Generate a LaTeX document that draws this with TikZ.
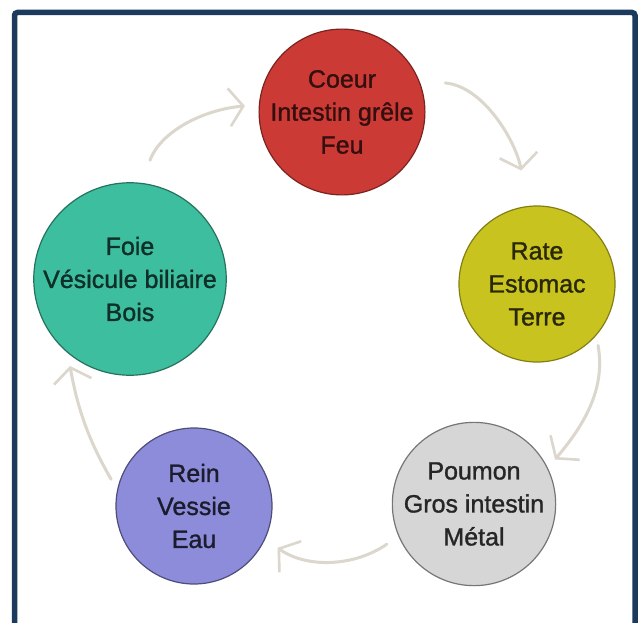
\documentclass[tikz,border=0pt]{standalone}
\usepackage{fontspec}
\setmainfont{Liberation Sans}[BoldFont={Liberation Sans}, BoldFeatures={FakeBold=1.2}]
\usetikzlibrary{arrows.meta}

\definecolor{framecol}{HTML}{1B3A5E}
\definecolor{cyccol}{HTML}{DCD7CC}
\definecolor{feucol}{HTML}{CC3A36}
\definecolor{terrecol}{HTML}{C9C31F}
\definecolor{metalcol}{HTML}{D6D6D6}
\definecolor{eaucol}{HTML}{8C8CDB}
\definecolor{boiscol}{HTML}{3DBE9E}

\tikzset{
  organ/.style={circle, align=center, inner sep=0pt, line width=1.2pt,
    minimum size=156pt, font=\fontsize{25}{33}\selectfont\bfseries},
  cyc/.style={draw=cyccol, line width=3pt, line cap=round,
    -{Straight Barb[length=14pt, width=38pt, line width=2.6pt]}}
}

\begin{document}
\begin{tikzpicture}[x=1pt, y=1pt]
  \useasboundingbox[fill=white] (0,0) rectangle (642,-623);
  % frame
  \draw[framecol, line width=5.5pt, rounded corners=3pt]
    (14.5,-623) -- (14.5,-12.5) -- (635,-12.5) -- (635,-623);
  % nodes
  \node[organ, fill=feucol, draw=feucol!60!black, text=feucol!25!black, minimum size=160pt]
    (coeur) at (342,-112) {Coeur\\Intestin grêle\\Feu};
  \node[organ, fill=terrecol, draw=terrecol!65!black, text=terrecol!20!black]
    (rate) at (537,-284) {Rate\\Estomac\\Terre};
  \node[organ, fill=metalcol, draw=metalcol!55!black, text=black!85]
    (poumon) at (474,-504) {Poumon\\Gros intestin\\Métal};
  \node[organ, fill=eaucol, draw=eaucol!55!black, text=eaucol!20!black]
    (rein) at (194,-506) {Rein\\Vessie\\Eau};
  \node[organ, fill=boiscol, draw=boiscol!60!black, text=boiscol!25!black, minimum size=168pt]
    (foie) at (130,-279) {Foie\\Vésicule biliaire\\Bois};
  % lines
  \draw[cyc, shorten <=24pt, shorten >=14pt] (foie.83) to[out=70, in=185] (coeur.175);
  \draw[cyc, shorten <=26pt, shorten >=36pt] (coeur.22) to[out=-5, in=100] (rate.97);
  \draw[cyc, shorten <=10pt, shorten >=11pt] (rate.-41) to[out=-80, in=50] (poumon.26);
  \draw[cyc, shorten <=14pt, shorten >=15pt] (poumon.-157) to[out=215, in=-35] (rein.-25);
  \draw[cyc, shorten <=12pt, shorten >=13pt] (rein.168) to[out=120, in=-80] (foie.-130);
\end{tikzpicture}
\end{document}
